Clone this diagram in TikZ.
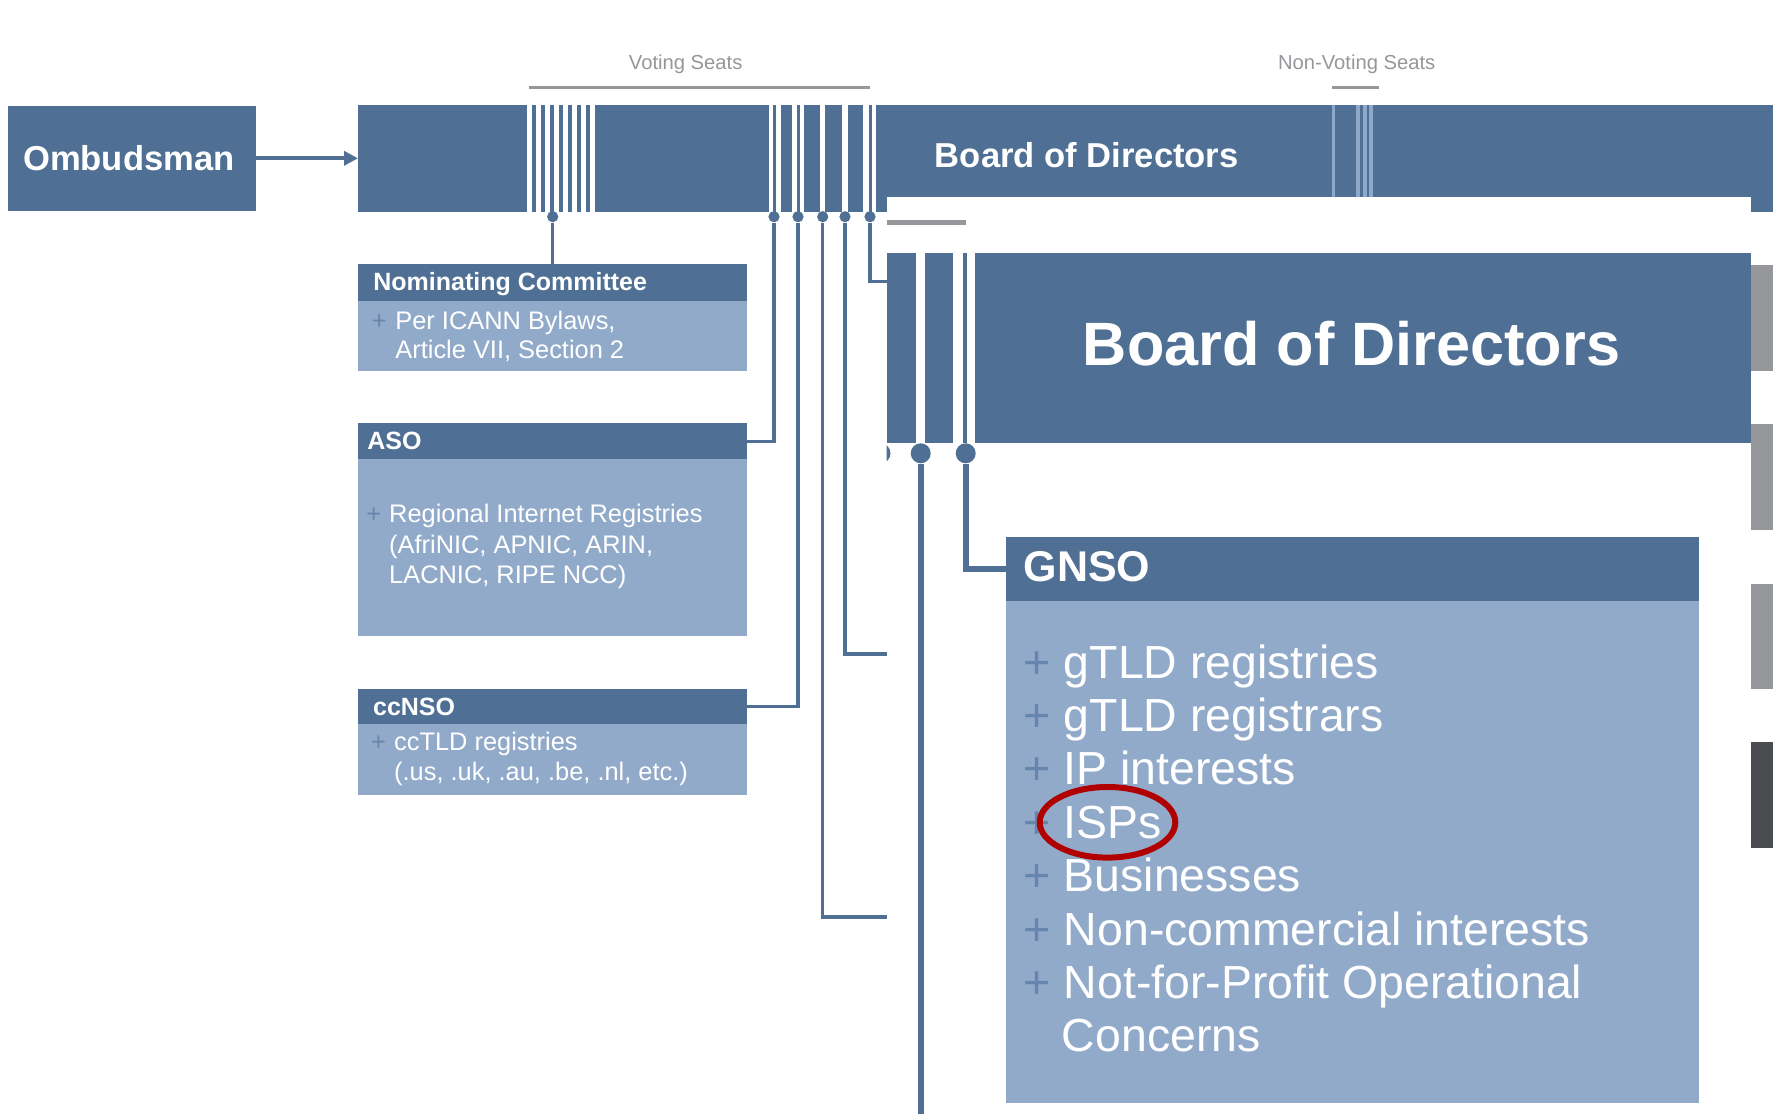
\documentclass[tikz,border=0pt]{standalone}
\usepackage{fontspec}
\setmainfont{Liberation Sans}
\usetikzlibrary{fit,arrows.meta}
\definecolor{dkblue}{HTML}{4F7094}
\definecolor{ltblue}{HTML}{92AACA}
\definecolor{plusblue}{HTML}{6585AD}
\definecolor{seatgray}{HTML}{96979B}
\definecolor{stripe}{HTML}{8EA8C9}
\definecolor{dkgray}{HTML}{4B4C50}
\definecolor{ringred}{HTML}{B00000}
\begin{document}
\begin{tikzpicture}[x=0.5pt,y=-0.5pt,
  darkbox/.style={fill=dkblue, inner sep=0pt, outer sep=0pt, draw=none},
  lightbox/.style={fill=ltblue, inner sep=0pt, outer sep=0pt, draw=none},
  hdr/.style={text=white, font=\bfseries\fontsize{12.5pt}{15pt}\selectfont, anchor=base west, inner sep=0pt},
  bodytxt/.style={text=white, font=\fontsize{12.7pt}{15pt}\selectfont, anchor=base west, inner sep=0pt},
  plusmark/.style={text=plusblue, font=\fontsize{12.7pt}{15pt}\selectfont, anchor=base, inner sep=0pt},
  gtxt/.style={text=white, font=\fontsize{23.2pt}{27pt}\selectfont, anchor=base west, inner sep=0pt},
  gplus/.style={text=plusblue, font=\fontsize{23.2pt}{27pt}\selectfont, anchor=base, inner sep=0pt},
  seatlbl/.style={text=seatgray, font=\fontsize{10.1pt}{12pt}\selectfont, anchor=base, inner sep=0pt},
  seatline/.style={draw=seatgray, line width=1.65pt},
  conn/.style={draw=dkblue, line width=1.6pt},
  iconn/.style={draw=dkblue, line width=2.8pt},
  dotc/.style={circle, fill=dkblue, inner sep=0pt, minimum size=5.6pt},
  bigdot/.style={circle, fill=dkblue, inner sep=0pt, minimum size=10pt},
  titlefont/.style={text=white, font=\bfseries\fontsize{17.3pt}{20pt}\selectfont, inner sep=0pt}
]
\useasboundingbox (0,0) rectangle (1779,1114);
\fill[white] (0,0) rectangle (1779,1114);

% seat labels
\node[seatlbl] (vs) at (685.7,69.5) {Voting Seats};
\node[seatlbl] (nvs) at (1356.7,69.5) {Non-Voting Seats};
\draw[seatline] (529,87.5) -- (870,87.5);
\draw[seatline] (1332,87.5) -- (1379,87.5);

% Ombudsman
\node[darkbox, fit={(8,105.6) (255.5,211)}] (ombud) {};
\node[titlefont, anchor=base west] (ombudtxt) at (22.7,170.2) {Ombudsman};

% top board bar
\node[darkbox, fit={(358,105) (1773,211.7)}] (topbar) {};
\draw[dkblue, line width=1.9pt, -{Triangle[length=7pt,width=7pt]}] (ombud.east) -- (topbar.west |- ombud.east);
\foreach \i in {0,...,7} \fill[white] ({527+9*\i},105) rectangle ++(4.7,106.7);
\fill[white] (768.7,105) rectangle (780.7,211.7);
\fill[white] (792.3,105) rectangle (804.3,211.7);
\fill[white] (820.3,105) rectangle (825.3,211.7);
\fill[white] (842.3,105) rectangle (847.7,211.7);
\fill[white] (863.3,105) rectangle (875.7,211.7);
\fill[dkblue] (772.5,105) rectangle (775.5,211.7);
\fill[dkblue] (796.5,105) rectangle (799.5,211.7);
\fill[dkblue] (868.5,105) rectangle (871.5,211.7);
\fill[stripe] (1332,105) rectangle (1335,211.7);
\fill[stripe] (1356.3,105) rectangle (1360,211.7);
\fill[stripe] (1362.7,105) rectangle (1366.7,211.7);
\fill[stripe] (1369.3,105) rectangle (1373.3,211.7);
\node[titlefont, anchor=base west] (bodtop) at (934.5,167.7) {Board of Directors};

% dots
\node[dotc] (dn) at (552.7,216.7) {};
\node[dotc] (d1) at (774,216.7) {};
\node[dotc] (d2) at (798,216.7) {};
\node[dotc] (d3) at (822.7,216.7) {};
\node[dotc] (d4) at (845,216.7) {};
\node[dotc] (d5) at (870,216.7) {};

% left boxes
\node[darkbox, fit={(358,264.3) (747,301)}] (nomh) {};
\node[lightbox, fit={(358,301) (747,370.7)}] (nomb) {};
\node[hdr] (nomt) at (373,290) {Nominating Committee};
\node[plusmark] (nomp) at (379.4,329) {+};
\node[bodytxt] (nom1) at (395,329) {Per ICANN Bylaws,};
\node[bodytxt] (nom2) at (395,358.4) {Article VII, Section 2};

\node[darkbox, fit={(358,423.3) (747,459.3)}] (asoh) {};
\node[lightbox, fit={(358,459.3) (747,636)}] (asob) {};
\node[hdr] (asot) at (367,449.7) {ASO};
\node[plusmark] (asop) at (373.9,522.4) {+};
\node[bodytxt] (aso1) at (388.8,522.4) {Regional Internet Registries};
\node[bodytxt] (aso2) at (388.8,553) {(AfriNIC, APNIC, ARIN,};
\node[bodytxt] (aso3) at (388.8,583) {LACNIC, RIPE NCC)};

\node[darkbox, fit={(358,689) (747,724.3)}] (cch) {};
\node[lightbox, fit={(358,724.3) (747,795)}] (ccb) {};
\node[hdr] (cct) at (372.7,715.7) {ccNSO};
\node[plusmark] (ccp) at (378.5,750.8) {+};
\node[bodytxt] (cc1) at (393.8,750.8) {ccTLD registries};
\node[bodytxt] (cc2) at (393.8,780.8) {(.us, .uk, .au, .be, .nl, etc.)};

% panel (zoomed inset)
\node[fill=white, inner sep=0pt, outer sep=0pt, fit={(886.7,196.7) (1750.6,1114)}] (panel) {};

% connectors
\coordinate (e3) at (886.7,917);
\coordinate (e4) at (886.7,654);
\coordinate (e5) at (886.7,281.7);
\draw[conn] (dn) -- (dn |- nomh.north);
\draw[conn] (d1) |- (asoh.east);
\draw[conn] (d2) |- (cch.east);
\draw[conn] (d3) |- (e3);
\draw[conn] (d4) |- (e4);
\draw[conn] (d5) |- (e5);

% inset content
\draw[draw=seatgray, line width=2.5pt] (886.7,222.5) -- (965.7,222.5);
\node[darkbox, fit={(886.7,253.3) (1750.6,443.3)}] (ibar) {};
\fill[white] (915.7,253.3) rectangle (925.3,443.3);
\fill[white] (953.3,253.3) rectangle (963.3,443.3);
\fill[white] (967.3,253.3) rectangle (975,443.3);
\node[text=white, font=\bfseries\fontsize{30.6pt}{36pt}\selectfont, inner sep=0pt, anchor=base] (bodbig) at (1351.5,365) {Board of Directors};
\begin{scope}
\clip (886.7,443.3) rectangle (1000,480);
\node[bigdot] (i0) at (880.5,453.3) {};
\end{scope}
\node[bigdot] (i1) at (920.7,453.3) {};
\node[bigdot] (i2) at (965.7,453.3) {};

% GNSO
\node[darkbox, fit={(1006,537) (1699,600.6)}] (gnsoh) {};
\node[lightbox, fit={(1006,600.6) (1699,1103)}] (gnsob) {};
\node[text=white, font=\bfseries\fontsize{21.5pt}{25pt}\selectfont, inner sep=0pt, anchor=base west] (gnsot) at (1023.3,581.3) {GNSO};
\coordinate (ibot) at (920.7,1114);
\draw[iconn] (i1) -- (ibot);
\draw[iconn] (i2) |- (gnsoh.west);

\foreach \t [count=\k] in {gTLD registries, gTLD registrars, IP interests, ISPs, Businesses, Non-commercial interests, Not-for-Profit Operational}{
  \node[gplus] (gp\k) at (1037,{678.1+53.4*(\k-1)}) {+};
  \node[gtxt] (gt\k) at (1063.5,{678.1+53.4*(\k-1)}) {\t};
}
\node[gtxt] (gt8) at (1061.5,1051.9) {Concerns};

\draw[ringred, line width=3pt] (1107.5,822.3) ellipse [x radius=33.9pt, y radius=17.65pt];

% right edge grey bars
\fill[seatgray] (1750.6,264.5) rectangle (1773,370.5);
\fill[seatgray] (1750.6,423.5) rectangle (1773,530);
\fill[seatgray] (1750.6,583.5) rectangle (1773,689);
\fill[dkgray] (1750.6,742) rectangle (1773,848);
\end{tikzpicture}
\end{document}
